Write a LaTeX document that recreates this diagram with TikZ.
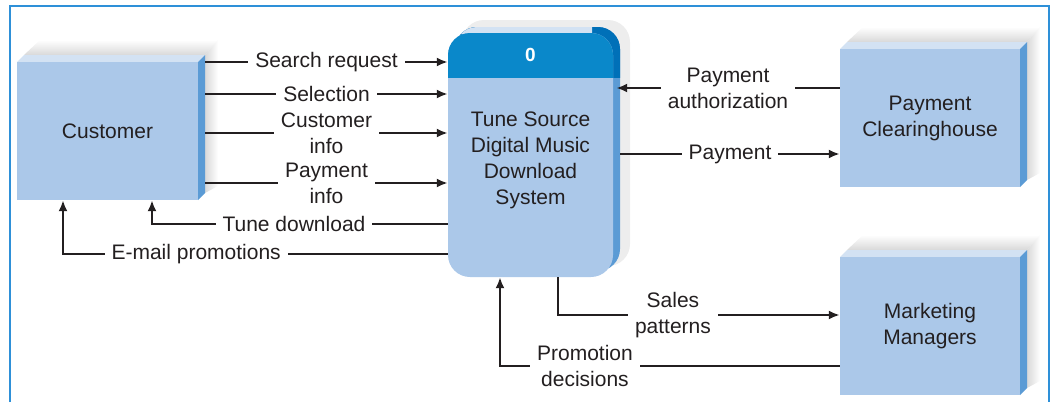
\documentclass[tikz,border=0pt]{standalone}
\usepackage{fontspec}
\setmainfont{Liberation Sans}
\usetikzlibrary{arrows.meta}
\definecolor{face}{HTML}{ABC8E9}
\definecolor{topb}{HTML}{D3E2F3}
\definecolor{sideb}{HTML}{5B9BD5}
\definecolor{hdr}{HTML}{0A88CA}
\definecolor{hdrside}{HTML}{0070B8}
\definecolor{framec}{HTML}{2E90D8}
\definecolor{txt}{HTML}{231F20}
\newcommand\EntBox[6]{%
  \shade[top color=white, bottom color=black!15] (#1+7,#2-7) -- (#1+23,#2-22) -- (#3+20,#2-22) -- (#3+7,#2-7) -- cycle;
  \shade[left color=black!15, right color=white] (#3+7,#2-7) -- (#3+20,#2-22) -- (#3+20,#4-14) -- (#3+7,#4-7) -- cycle;
  \fill[topb] (#1,#2) -- (#1+7,#2-7) -- (#3+7,#2-7) -- (#3,#2) -- cycle;
  \fill[sideb] (#3,#2) -- (#3+7,#2-7) -- (#3+7,#4-7) -- (#3,#4) -- cycle;
  \node[entity, minimum width={#3-#1}, minimum height={#4-#2}] (#5) at ({(#1+#3)/2},{(#2+#4)/2}) {#6};
}
\begin{document}
\begin{tikzpicture}[x=1pt,y=-1pt, font=\fontsize{21}{26}\selectfont,
  flow/.style={line width=2.6pt, draw=txt, -{Latex[length=11pt,width=9pt]}},
  lbl/.style={fill=white, inner xsep=7pt, inner ysep=2pt, text=txt, align=center},
  entity/.style={fill=face, inner sep=0pt, text=txt, align=center}]
\useasboundingbox (0,0) rectangle (1053,402);
\draw[framec, line width=2pt] (10,402) -- (10,6) -- (1049,6) -- (1049,402);

\EntBox{17}{62}{198}{200}{cust}{Customer}
\EntBox{840}{49}{1020}{187}{pc}{Payment\\Clearinghouse}
\EntBox{840}{257}{1020}{395}{mm}{Marketing\\Managers}

% process
\fill[black!7, rounded corners=22pt] (462,20) rectangle (630,266);
\fill[sideb, rounded corners=22pt] (455,27) rectangle (620,271);
\begin{scope}
  \clip (440,0) rectangle (640,77);
  \fill[hdrside, rounded corners=22pt] (455,27) rectangle (620,271);
\end{scope}
\begin{scope}
  \clip (440,0) rectangle (592,33);
  \fill[topb, rounded corners=22pt] (455,27) rectangle (620,271);
\end{scope}
\node[fill=face, rounded corners=22pt, minimum width=165pt, minimum height=244pt, inner sep=0pt] (proc) at (530.5,155) {};
\begin{scope}
  \clip (440,0) rectangle (640,77);
  \fill[hdr, rounded corners=22pt] (448,33) rectangle (613,277);
\end{scope}
\node[text=white, font=\fontsize{19}{22}\selectfont\bfseries] (pnum) at (530.5,55) {0};
\node[text=txt, align=center] (ptext) at ([yshift=-5pt]proc.center) {Tune Source\\Digital Music\\Download\\System};

% flows
\draw[flow] ([xshift=7pt]cust.east |- 0,62) -- node[lbl]{Search request} (proc.west |- 0,62);
\draw[flow] ([xshift=7pt]cust.east |- 0,94) -- node[lbl]{Selection} (proc.west |- 0,94);
\draw[flow] ([xshift=7pt]cust.east |- 0,133) -- node[lbl]{Customer\\info} (proc.west |- 0,133);
\draw[flow] ([xshift=7pt]cust.east |- 0,183) -- node[lbl]{Payment\\info} (proc.west |- 0,183);
\draw[flow] (proc.west |- 0,224) -| node[lbl, pos=0.26]{Tune download} ([xshift=44.5pt]cust.south);
\draw[flow] (proc.west |- 0,254) -| node[lbl, pos=0.327]{E-mail promotions} ([xshift=-44.5pt]cust.south);
\draw[flow] (pc.west |- 0,88) -- node[lbl]{Payment\\authorization} ([xshift=3pt]proc.east |- 0,88);
\draw[flow] ([xshift=7pt]proc.east |- 0,154) -- node[lbl]{Payment} (pc.west |- 0,154);
\draw[flow] (proc.south -| 558,0) |- node[lbl, pos=0.704]{Sales\\patterns} (mm.west |- 0,315);
\draw[flow] (mm.west |- 0,366) -| node[lbl, pos=0.375]{Promotion\\decisions} (proc.south -| 500,0);
\end{tikzpicture}
\end{document}
